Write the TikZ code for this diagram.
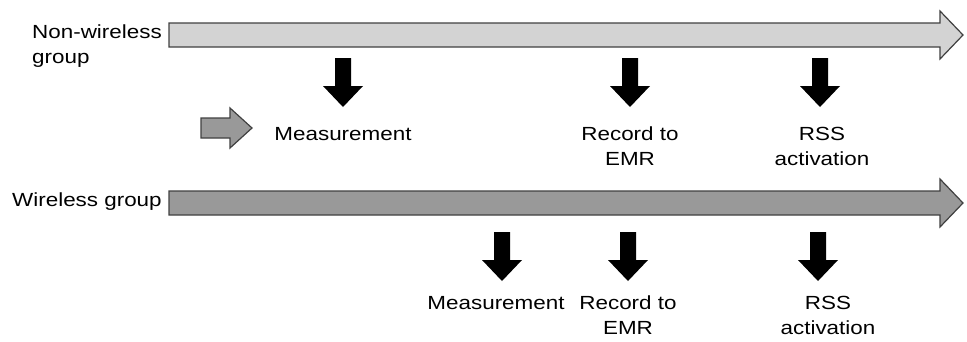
\documentclass[tikz,border=0pt]{standalone}
\usepackage{fontspec}
\setmainfont{Liberation Sans}[FakeStretch=1.18]
\usepackage{xcolor}
\usetikzlibrary{positioning}
\definecolor{barlight}{HTML}{D3D3D3}
\definecolor{bardark}{HTML}{999999}
\definecolor{baredge}{HTML}{404040}
\tikzset{
  lbl/.style={align=center,inner sep=0pt,font=\fontsize{19}{25}\selectfont},
  bar/.style={draw=baredge,line width=1.2pt,line join=miter},
  down/.style={fill=black}
}

\begin{document}
\begin{tikzpicture}[x=1pt,y=-1pt]
       \useasboundingbox (0,0) rectangle (967,341);
       % timelines
       \draw[bar,fill=barlight] (169,23) -- (940,23) -- (940,11) -- (963,35) -- (940,59) -- (940,47) -- (169,47) -- cycle;
       \draw[bar,fill=bardark] (169,191) -- (940,191) -- (940,179) -- (963,203) -- (940,227) -- (940,215) -- (169,215) -- cycle;
       \draw[bar,fill=bardark] (201,118) -- (230,118) -- (230,108) -- (252,128) -- (230,148) -- (230,138) -- (201,138) -- cycle;
       % event arrows
       \foreach \x/\y in {343/58, 630/58, 820/58, 502/232, 628/232, 818/232}
         \fill[down] (\x-8,\y) -- (\x+8,\y) -- (\x+8,\y+28) -- (\x+20,\y+28) -- (\x,\y+49) -- (\x-20,\y+28) -- (\x-8,\y+28) -- cycle;
       % group names
       \node[lbl,align=left,anchor=north west] (nw) at (32,25) {Non-wireless\\group};
       \node[lbl,anchor=north west] (w) at (12,193) {Wireless group};
       % events, non-wireless
       \node[lbl,anchor=north] (nwmeas) at (343,127) {Measurement};
       \node[lbl,anchor=north] (nwemr) at (630,127) {Record to\\EMR};
       \node[lbl,anchor=north] (nwrss) at (822,127) {RSS\\activation};
       % events, wireless
       \node[lbl,anchor=north] (wmeas) at (496,296) {Measurement};
       \node[lbl,anchor=north] (wemr) at (628,296) {Record to\\EMR};
       \node[lbl,anchor=north] (wrss) at (828,296) {RSS\\activation};
\end{tikzpicture}
\end{document}
